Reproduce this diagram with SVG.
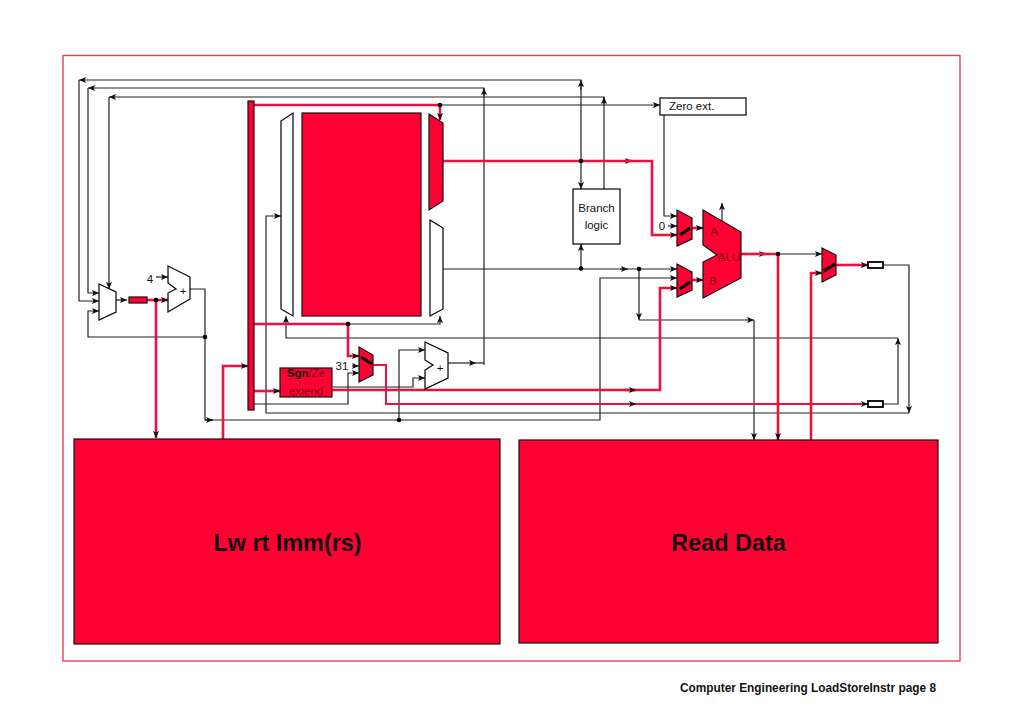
<svg xmlns="http://www.w3.org/2000/svg" width="1024" height="709" viewBox="0 0 1024 709">
<style>
text{font-family:"Liberation Sans",Arial,sans-serif;fill:#111}
.n{fill:#fff;stroke:#000;stroke-width:1.2}
.r{fill:#ff0033;stroke:#111;stroke-width:1.2}
.k{fill:none;stroke:#222;stroke-width:1.2}
.h{fill:none;stroke:#f0103c;stroke-width:2.6}
.s{stroke:#000;stroke-width:3.2;stroke-linecap:butt;fill:none}
.t{font-size:11.500px}
.c{text-anchor:middle}
.d{fill:#7a0018}
.b{font-size:23.400px;font-weight:bold;text-anchor:middle}
</style>
<defs>
<marker id="a" markerWidth="9" markerHeight="7" refX="7" refY="3" orient="auto" markerUnits="userSpaceOnUse"><path d="M0 0L7 3L0 6L1.500 3Z" fill="#111"/></marker>
</defs>
<rect id="frame" x="63" y="55.500" width="897" height="605.500" fill="#fff" stroke="#e8405c" stroke-width="1.400"/>
<g id="connectors">
<g class="k">
<path d="M581 161V80H79" marker-end="url(#a)"/>
<path d="M79 80V301H99" marker-end="url(#a)"/>
<path d="M484 365V88H88" marker-end="url(#a)"/>
<path d="M88 88V293H99" marker-end="url(#a)"/>
<path d="M604 189V97H109" marker-end="url(#a)"/>
<path d="M109 97V289" marker-end="url(#a)"/>
<path d="M484 96V88" marker-end="url(#a)"/>
<path d="M581 90V80" marker-end="url(#a)"/>
<path d="M604 104V97" marker-end="url(#a)"/>
<path d="M581 161V189" marker-end="url(#a)"/>
<path d="M581 268V244" marker-end="url(#a)"/>
<path d="M440 105H660" marker-end="url(#a)"/>
<path d="M664 115V216H677" marker-end="url(#a)"/>
<path d="M668 226H677" marker-end="url(#a)"/>
<path d="M443 269H628" marker-end="url(#a)"/>
<path d="M620 269H677" marker-end="url(#a)"/>
<path d="M639 269V320" marker-end="url(#a)"/>
<path d="M639 320H754" marker-end="url(#a)"/>
<path d="M754 320V440" marker-end="url(#a)"/>
<path d="M205 337V420H600V278H677" marker-end="url(#a)"/>
<path d="M205 420H213" marker-end="url(#a)"/>
<path d="M722 226V203" marker-end="url(#a)"/>
<path d="M778 254H822" marker-end="url(#a)"/>
<path d="M884 265H909V413" marker-end="url(#a)"/>
<path d="M909 413H266V216H281" marker-end="url(#a)"/>
<path d="M884 404H898V338" marker-end="url(#a)"/>
<path d="M898 338H286V316" marker-end="url(#a)"/>
<path d="M348 324H440V316" marker-end="url(#a)"/>
<path d="M254 404H348V373H359" marker-end="url(#a)"/>
<path d="M352 366H359" marker-end="url(#a)"/>
<path d="M399 420V350H425" marker-end="url(#a)"/>
<path d="M333 387H413V378H425" marker-end="url(#a)"/>
<path d="M447 363H476" marker-end="url(#a)"/>
<path d="M476 363H484"/>
<path d="M116 300H127" marker-end="url(#a)"/>
<path d="M156 277H168" marker-end="url(#a)"/>
<path d="M190 289H205V337H88V311H99" marker-end="url(#a)"/>
</g>
<g class="h">
<path d="M254 105H440V120" marker-end="url(#a)"/>
<path d="M443 161H632" marker-end="url(#a)"/>
<path d="M625 161H652V235H677" marker-end="url(#a)"/>
<path d="M692 228H703" marker-end="url(#a)"/>
<path d="M692 280H703" marker-end="url(#a)"/>
<path d="M741 254H766" marker-end="url(#a)"/>
<path d="M760 254H778V440" marker-end="url(#a)"/>
<path d="M811 440V273H822" marker-end="url(#a)"/>
<path d="M836 265H868" marker-end="url(#a)"/>
<path d="M147 300H168" marker-end="url(#a)"/>
<path d="M156 300V438" marker-end="url(#a)"/>
<path d="M223 439V366H248" marker-end="url(#a)"/>
<path d="M254 391H280" marker-end="url(#a)"/>
<path d="M254 324H348V356H359" marker-end="url(#a)"/>
<path d="M332 390H660V288H677" marker-end="url(#a)"/>
<path d="M373 365H386V404H868" stroke-width="2" marker-end="url(#a)"/>
<path d="M625 390H636" marker-end="url(#a)"/>
<path d="M625 404H636" stroke-width="2" marker-end="url(#a)"/>
</g>
<g fill="#000">
<circle cx="440" cy="105" r="2.300"/><circle cx="581" cy="161" r="2.300"/><circle cx="581" cy="268.500" r="2.300"/><circle cx="639" cy="269" r="2.300"/><circle cx="778" cy="254" r="2.300"/><circle cx="156" cy="300" r="2.300"/><circle cx="205" cy="337" r="2.300"/><circle cx="348" cy="324" r="2.300"/><circle cx="399" cy="420" r="2.300"/>
</g>
</g>
<g id="pc-mux"><path class="n" d="M99 284L116 292V312L99 320Z"/></g>
<g id="pc"><rect x="129" y="297" width="18" height="6" class="r"/></g>
<g id="adder1"><path class="n" d="M168 266L190 277V299L168 312V293L176 289L168 283Z"/><text x="183" y="295" class="t c">+</text><text x="150" y="283" class="t c">4</text></g>
<g id="pipe-if"><rect x="248" y="101" width="6" height="309" class="r"/></g>
<g id="reg-in"><path class="n" d="M281 121L293 113V316L281 309Z"/></g>
<g id="regfile"><rect x="302" y="113" width="119" height="203" class="r"/></g>
<g id="reg-outa"><path class="r" d="M429 114L443 123V201L429 210Z"/></g>
<g id="reg-outb"><path class="n" d="M430 220L443 228V309L430 316Z"/></g>
<g id="sign-extend"><rect x="280" y="368" width="52" height="29" class="r"/><text x="306" y="377" class="t c d"><tspan font-weight="bold" fill="#111">Sgn</tspan>/Ze</text><text x="306" y="395" class="t c d">extend</text></g>
<g id="mux31"><path class="r" d="M359 347L373 355V375L359 382Z"/><path class="s" d="M361 357L372 364"/><text x="342" y="370" class="t c">31</text></g>
<g id="adder2"><path class="n" d="M425 342L448 353V378L425 389V370L433 365L425 360Z"/><text x="440" y="372" class="t c">+</text></g>
<g id="branch"><rect x="573" y="189" width="47" height="55" class="n"/><text x="596.500" y="212" class="t c">Branch</text><text x="596.500" y="229" class="t c">logic</text></g>
<g id="zero-ext"><rect x="660" y="98" width="86" height="17" class="n"/><text x="669" y="110" class="t">Zero ext.</text></g>
<g id="mux-a"><path class="r" d="M677 210L692 218V239L677 246Z"/><path class="s" d="M680 235L690 228"/><text x="662" y="230" class="t c">0</text></g>
<g id="mux-b"><path class="r" d="M677 264L692 272V290L677 297Z"/><path class="s" d="M680 289L690 282"/></g>
<g id="alu"><path class="r" d="M703 210L741 232V278L703 298V262L717 255L703 245Z"/><text x="714" y="235" class="t c d">A</text><text x="729" y="261" class="t c d">ALU</text><text x="713" y="285" class="t c d">B</text></g>
<g id="mux-wb"><path class="r" d="M822 248L836 255V275L822 282Z"/><path class="s" d="M824 271L835 264"/></g>
<g id="reg-wb1"><rect x="868" y="262" width="15" height="6" fill="#fff" stroke="#000" stroke-width="1.800"/></g>
<g id="reg-wb2"><rect x="868" y="401" width="15" height="6" fill="#fff" stroke="#000" stroke-width="1.800"/></g>
<g id="instr"><rect x="74" y="439" width="426" height="205" class="r"/><text x="287.500" y="551" class="b">Lw rt Imm(rs)</text></g>
<g id="data"><rect x="519" y="440" width="419" height="203" class="r"/><text x="728.500" y="551" class="b">Read Data</text></g>
<text x="680" y="692" font-size="11.850" font-weight="bold">Computer Engineering LoadStoreInstr page 8</text>
</svg>
